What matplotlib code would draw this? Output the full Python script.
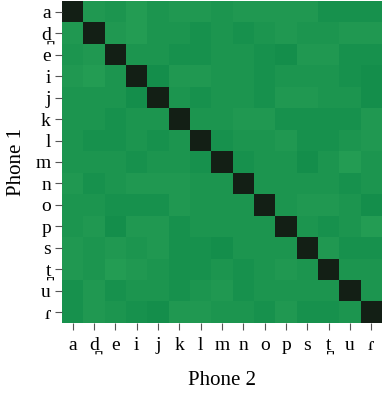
import numpy as np
import matplotlib
matplotlib.use('Agg')
import matplotlib.pyplot as plt
from matplotlib.colors import LinearSegmentedColormap

# Phone labels
phones = ['a', 'd\u032a', 'e', 'i', 'j', 'k', 'l', 'm', 'n', 'o', 'p', 's', 't\u032a', 'u', '\u027e']

# Similarity between phones (diagonal = 1)
sim = np.array([
    [1.00, 0.045, 0.07, 0.02, 0.07, 0.045, 0.045, 0.07, 0.045, 0.045, 0.045, 0.045, 0.095, 0.095, 0.095],
    [0.045, 1.00, 0.045, 0.02, 0.07, 0.07, 0.095, 0.07, 0.095, 0.07, 0.045, 0.07, 0.07, 0.045, 0.045],
    [0.07, 0.045, 1.00, 0.07, 0.07, 0.095, 0.095, 0.07, 0.07, 0.095, 0.12, 0.045, 0.045, 0.095, 0.095],
    [0.045, 0.02, 0.07, 1.00, 0.12, 0.045, 0.045, 0.07, 0.07, 0.095, 0.07, 0.07, 0.07, 0.095, 0.12],
    [0.07, 0.07, 0.07, 0.12, 1.00, 0.07, 0.095, 0.07, 0.07, 0.095, 0.045, 0.045, 0.07, 0.07, 0.12],
    [0.07, 0.07, 0.095, 0.07, 0.07, 1.00, 0.07, 0.07, 0.045, 0.045, 0.095, 0.095, 0.095, 0.095, 0.045],
    [0.07, 0.095, 0.095, 0.07, 0.095, 0.07, 1.00, 0.095, 0.07, 0.07, 0.045, 0.095, 0.095, 0.07, 0.045],
    [0.07, 0.07, 0.07, 0.095, 0.07, 0.07, 0.095, 1.00, 0.095, 0.07, 0.07, 0.12, 0.07, 0.02, 0.07],
    [0.045, 0.095, 0.07, 0.045, 0.045, 0.045, 0.07, 0.07, 1.00, 0.07, 0.07, 0.07, 0.07, 0.095, 0.07],
    [0.07, 0.07, 0.095, 0.095, 0.095, 0.045, 0.07, 0.07, 0.07, 1.00, 0.07, 0.045, 0.045, 0.07, 0.12],
    [0.07, 0.045, 0.12, 0.045, 0.045, 0.095, 0.07, 0.07, 0.07, 0.07, 1.00, 0.07, 0.095, 0.07, 0.02],
    [0.045, 0.07, 0.045, 0.07, 0.045, 0.095, 0.095, 0.12, 0.07, 0.07, 0.07, 1.00, 0.045, 0.095, 0.095],
    [0.045, 0.07, 0.02, 0.045, 0.07, 0.095, 0.095, 0.07, 0.095, 0.07, 0.045, 0.07, 1.00, 0.07, 0.07],
    [0.095, 0.045, 0.095, 0.07, 0.07, 0.095, 0.07, 0.045, 0.095, 0.07, 0.07, 0.07, 0.07, 1.00, 0.07],
    [0.095, 0.045, 0.07, 0.095, 0.12, 0.045, 0.045, 0.07, 0.07, 0.095, 0.045, 0.095, 0.095, 0.07, 1.00],
])

cmap = LinearSegmentedColormap.from_list(
    'phone_green', [(0.0, '#279f55'), (0.15, '#0f8a49'), (1.0, '#131f15')])

plt.rcParams['font.family'] = ['Liberation Serif', 'DejaVu Serif']

fig = plt.figure(figsize=(3.82, 3.94), dpi=100)
ax = fig.add_axes([62 / 382, 71 / 394, 320 / 382, 322 / 394])

ax.imshow(sim, cmap=cmap, vmin=0, vmax=1, aspect='auto', interpolation='nearest')

ax.set_xticks(range(len(phones)))
ax.set_yticks(range(len(phones)))
ax.set_xticklabels(phones, fontsize=14)
ax.set_yticklabels(phones, fontsize=14)
ax.tick_params(length=5, width=0.8, color='#555555', pad=3)
ax.tick_params(axis='x', pad=5)
for s in ax.spines.values():
    s.set_visible(False)

ax.set_xlabel('Phone 2', fontsize=15, labelpad=12)
ax.set_ylabel('Phone 1', fontsize=15, labelpad=7)

fig.savefig('out.png', dpi=100)
